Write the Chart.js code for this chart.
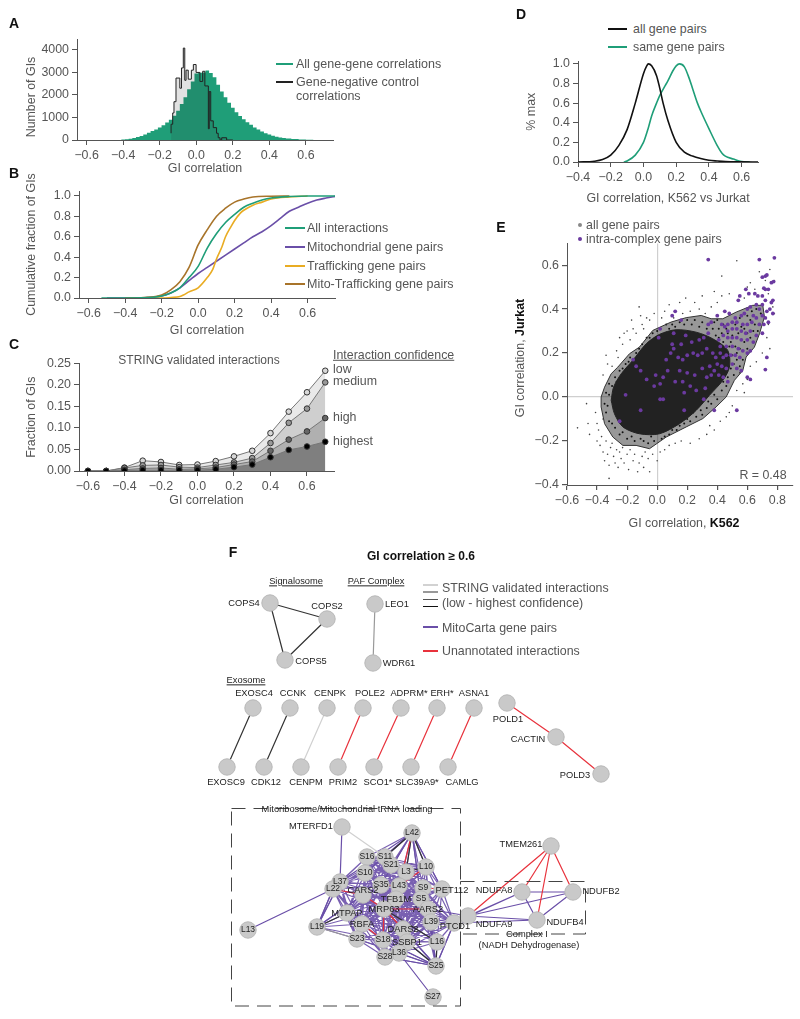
<!DOCTYPE html>
<html><head><meta charset="utf-8">
<style>
html,body{margin:0;padding:0;background:#fff;width:800px;height:1019px;overflow:hidden}
canvas{position:absolute;display:block}
.t{position:absolute;white-space:nowrap;font-family:"Liberation Sans",Arial,sans-serif;color:#555;line-height:1}
.l{position:absolute;height:2px}
</style>
<script src="https://cdn.jsdelivr.net/npm/chart.js@4/dist/chart.umd.js"></script>
</head><body>
<script>
// ---------- tick labels
const ticksGI=[-0.6,-0.4,-0.2,0,0.2,0.4,0.6];
const ticksA=[0,1000,2000,3000,4000];
const ticksFrac=[0,0.2,0.4,0.6,0.8,1];
const ticksC=[0,0.05,0.1,0.15,0.2,0.25];
const ticksDx=[-0.4,-0.2,0,0.2,0.4,0.6];
const ticksEx=[-0.6,-0.4,-0.2,0,0.2,0.4,0.6,0.8];
const ticksEy=[-0.4,-0.2,0,0.2,0.4,0.6];
// ---------- panel A
const aBins=[-0.42,-0.4,-0.38,-0.36,-0.34,-0.32,-0.3,-0.28,-0.26,-0.24,-0.22,-0.2,-0.18,-0.16,-0.14,-0.12,-0.1,-0.08,-0.06,-0.04,-0.02,0,0.02,0.04,0.06,0.08,0.1,0.12,0.14,0.16,0.18,0.2,0.22,0.24,0.26,0.28,0.3,0.32,0.34,0.36,0.38,0.4,0.42,0.44,0.46,0.48,0.5,0.54,0.58,0.62,0.66,0.7];
const aAll=[5,20,35,50,90,130,180,240,320,400,470,550,650,780,900,1080,1300,1600,1900,2250,2600,2950,2980,3000,3090,2970,2790,2450,2150,1900,1650,1430,1230,1060,920,790,680,560,470,380,300,240,190,140,110,90,70,40,20,10,5,0];
const aNegEdges=[-0.138,-0.129,-0.122,-0.111,-0.09,-0.081,-0.071,-0.063,-0.056,-0.044,-0.027,-0.016,-0.001,0.02,0.035,0.047,0.066,0.071,0.079,0.093,0.111,0.12,0.13,0.139,0.166,0.18,0.2];
const aNeg=[300,700,1200,1700,2750,2300,3200,4080,2650,3100,2700,3100,3350,3000,2600,3050,2400,500,2150,850,550,300,100,0,100,0,0];
// ---------- panel B
const bAllX=[-0.53,-0.3,-0.2,-0.15,-0.1,-0.05,0,0.05,0.1,0.15,0.2,0.25,0.3,0.35,0.4,0.5,0.6,0.75];
const bAll=[0,0.002,0.02,0.05,0.1,0.2,0.31,0.49,0.63,0.74,0.82,0.89,0.93,0.96,0.98,0.995,1,1];
const bMitoX=[-0.5,-0.3,-0.2,-0.15,-0.1,-0.05,0,0.05,0.1,0.15,0.2,0.25,0.3,0.35,0.4,0.45,0.5,0.55,0.6,0.65,0.7,0.76];
const bMito=[0,0.002,0.02,0.05,0.1,0.17,0.24,0.3,0.36,0.42,0.48,0.54,0.6,0.65,0.71,0.78,0.85,0.89,0.93,0.96,0.98,1];
const bTrafX=[-0.3,-0.2,-0.15,-0.1,-0.08,-0.05,0,0.05,0.08,0.1,0.13,0.15,0.18,0.2,0.23,0.25,0.3,0.35,0.4,0.5,0.6];
const bTraf=[0,0,0.005,0.015,0.03,0.06,0.1,0.2,0.28,0.38,0.5,0.6,0.7,0.76,0.83,0.86,0.91,0.94,0.97,0.99,1];
const bMixX=[-0.4,-0.3,-0.2,-0.15,-0.1,-0.05,0,0.05,0.1,0.15,0.2,0.25,0.3,0.4,0.5];
const bMix=[0,0.005,0.03,0.08,0.16,0.3,0.52,0.67,0.8,0.88,0.94,0.97,0.99,0.998,1];
// ---------- panel C
const cX=[-0.6,-0.5,-0.4,-0.3,-0.2,-0.1,0,0.1,0.2,0.3,0.4,0.5,0.6,0.7];
const cLow=[0,0,0.008,0.024,0.021,0.014,0.015,0.023,0.034,0.047,0.088,0.138,0.183,0.233];
const cMedium=[0,0,0.007,0.013,0.014,0.009,0.008,0.014,0.02,0.03,0.065,0.112,0.145,0.206];
const cHigh=[0,0,0.003,0.006,0.007,0.004,0.005,0.008,0.015,0.022,0.047,0.073,0.092,0.123];
const cHighest=[0,0,0.001,0.002,0.002,0.002,0.002,0.004,0.009,0.015,0.032,0.049,0.057,0.068];
// ---------- panel D
const dAllX=[-0.4,-0.3,-0.25,-0.2,-0.15,-0.1,-0.05,0,0.02,0.03,0.05,0.08,0.1,0.12,0.15,0.2,0.25,0.3,0.35,0.4,0.45,0.5,0.6,0.7];
const dAll=[0,0.008,0.025,0.07,0.17,0.33,0.6,0.9,0.98,1,0.98,0.88,0.75,0.6,0.42,0.2,0.1,0.06,0.035,0.018,0.01,0.004,0.001,0];
const dSameX=[-0.12,-0.1,-0.05,0,0.03,0.05,0.08,0.1,0.13,0.15,0.18,0.2,0.22,0.25,0.28,0.3,0.33,0.35,0.4,0.45,0.48,0.5,0.55,0.6,0.65];
const dSame=[0,0.01,0.07,0.2,0.35,0.47,0.6,0.68,0.77,0.83,0.93,0.98,1,0.97,0.85,0.75,0.6,0.52,0.34,0.17,0.09,0.06,0.03,0.005,0];
// ---------- panel E
const eDense=[[-0.306,-0.015],[-0.29,0.045],[-0.239,0.106],[-0.162,0.167],[-0.073,0.242],[0.016,0.285],[0.126,0.306],[0.259,0.295],[0.37,0.265],[0.47,0.212],[0.481,0.136],[0.437,0.076],[0.348,0.008],[0.259,-0.061],[0.149,-0.121],[0.016,-0.167],[-0.118,-0.167],[-0.228,-0.136],[-0.284,-0.076],[-0.306,-0.015]];
const eContour=[[-0.373,0],[-0.35,0.045],[-0.306,0.106],[-0.262,0.136],[-0.184,0.197],[-0.118,0.227],[-0.029,0.303],[0.093,0.341],[0.193,0.361],[0.293,0.371],[0.359,0.356],[0.437,0.356],[0.525,0.386],[0.636,0.417],[0.703,0.417],[0.714,0.364],[0.681,0.288],[0.647,0.227],[0.592,0.182],[0.57,0.121],[0.514,0.076],[0.459,0],[0.392,-0.045],[0.304,-0.098],[0.193,-0.136],[0.06,-0.182],[-0.051,-0.235],[-0.14,-0.22],[-0.228,-0.22],[-0.295,-0.182],[-0.35,-0.121],[-0.373,-0.045],[-0.373,0]];
const eAllPairs=[[-0.53,-0.14],[-0.47,-0.03],[-0.46,-0.12],[-0.45,-0.17],[-0.41,-0.07],[-0.4,-0.12],[-0.4,-0.2],[-0.39,-0.15],[-0.38,-0.22],[-0.37,-0.18],[-0.36,-0.1],[-0.36,-0.25],[-0.35,-0.29],[-0.34,-0.2],[-0.33,-0.26],[-0.32,-0.31],[-0.32,-0.37],[-0.31,-0.23],[-0.3,-0.21],[-0.29,-0.27],[-0.28,-0.3],[-0.27,-0.24],[-0.26,-0.32],[-0.25,-0.25],[-0.24,-0.28],[-0.23,-0.23],[-0.22,-0.3],[-0.2,-0.26],[-0.19,-0.33],[-0.18,-0.24],[-0.16,-0.29],[-0.15,-0.26],[-0.13,-0.34],[-0.12,-0.3],[-0.1,-0.27],[-0.09,-0.32],[-0.08,-0.25],[-0.06,-0.28],[-0.05,-0.34],[-0.03,-0.26],[0,-0.29],[0.02,-0.25],[0.05,-0.24],[0.08,-0.22],[0.12,-0.21],[0.16,-0.2],[0.22,-0.21],[0.28,-0.19],[0.33,-0.17],[0.35,-0.13],[0.38,-0.15],[0.42,-0.11],[0.46,-0.09],[0.48,-0.07],[0.5,-0.04],[0.53,0.03],[-0.36,0.1],[-0.34,0.19],[-0.33,0.15],[-0.3,0.14],[-0.27,0.21],[-0.26,0.18],[-0.25,0.27],[-0.23,0.24],[-0.22,0.29],[-0.2,0.3],[-0.18,0.26],[-0.17,0.35],[-0.16,0.31],[-0.14,0.29],[-0.12,0.41],[-0.11,0.37],[-0.1,0.33],[-0.09,0.31],[-0.07,0.36],[-0.05,0.35],[-0.02,0.38],[0.03,0.36],[0.05,0.39],[0.08,0.42],[0.11,0.36],[0.15,0.43],[0.17,0.38],[0.19,0.45],[0.22,0.39],[0.25,0.43],[0.28,0.4],[0.3,0.46],[0.32,0.38],[0.36,0.41],[0.38,0.48],[0.4,0.43],[0.43,0.46],[0.45,0.39],[0.48,0.47],[0.43,0.55],[0.53,0.62],[0.55,0.46],[0.58,0.45],[0.6,0.5],[0.62,0.52],[0.65,0.49],[0.68,0.57],[0.72,0.53],[0.75,0.58],[0.78,0.53],[0.74,0.47],[0.77,0.41],[0.78,0.38],[0.74,0.33],[0.73,0.27],[0.75,0.22],[0.7,0.2],[0.66,0.16],[0.62,0.14],[0.6,0.08],[0.57,0.06],[0.55,0.11],[0.58,0.02]];
const eAllPairsBand=[[0.38,0.34],[0.41,0.31],[0.44,0.33],[0.47,0.29],[0.5,0.28],[0.52,0.33],[0.55,0.36],[0.58,0.31],[0.6,0.37],[0.63,0.39],[0.66,0.4],[0.69,0.38],[0.65,0.33],[0.67,0.3],[0.62,0.27],[0.58,0.25],[0.55,0.22],[0.6,0.22],[0.57,0.17],[0.53,0.17],[0.55,0.14],[0.51,0.1],[0.49,0.13],[0.46,0.05],[0.43,0.03],[0.4,-0.01],[0.36,-0.03],[0.33,-0.05],[0.3,-0.08],[0.26,-0.09],[0.22,-0.11],[0.18,-0.12],[0.13,-0.15],[0.08,-0.17],[0.03,-0.19],[-0.02,-0.2],[-0.06,-0.21],[-0.11,-0.19],[-0.15,-0.2],[-0.2,-0.19],[-0.25,-0.17],[-0.28,-0.14],[-0.32,-0.11],[-0.34,-0.07],[-0.35,-0.03],[-0.34,0.02],[-0.32,0.06],[-0.28,0.09],[-0.25,0.12],[-0.21,0.15],[-0.18,0.18],[-0.14,0.2],[-0.1,0.24],[-0.07,0.27],[-0.03,0.29],[0.02,0.31],[0.06,0.33],[0.1,0.33],[0.15,0.34],[0.2,0.35],[0.25,0.35],[0.3,0.34],[0.34,0.33],[0.37,0.31],[0.41,0.27],[0.44,0.25],[0.48,0.23],[0.5,0.19],[0.4,0.35],[0.43,0.29],[0.46,0.31],[0.49,0.25],[0.52,0.23],[0.54,0.29],[0.56,0.32],[0.6,0.29],[0.62,0.35],[0.64,0.3],[0.53,0.2],[0.51,0.15],[0.47,0.09],[0.44,0.07],[0.38,0.01],[0.34,-0.02],[0.29,-0.06],[0.24,-0.07],[0.2,-0.1],[0.15,-0.13],[0.1,-0.15],[0.05,-0.18],[-0.04,-0.18],[-0.09,-0.2],[-0.17,-0.18],[-0.23,-0.16],[-0.3,-0.12],[-0.33,-0.04],[-0.32,0.01],[-0.3,0.05],[-0.27,0.07],[-0.23,0.13],[-0.19,0.16],[-0.12,0.22],[-0.05,0.27],[0,0.3],[0.08,0.31],[0.12,0.32],[0.18,0.33],[0.23,0.33],[0.28,0.32],[0.33,0.31],[0.39,0.28]];
const eIntraComplex=[[0.34,0.625],[0.68,0.625],[0.78,0.633],[0.72,0.55],[0.73,0.555],[0.7,0.545],[0.76,0.52],[0.775,0.525],[0.71,0.495],[0.72,0.49],[0.74,0.49],[0.59,0.49],[0.55,0.46],[0.54,0.44],[0.61,0.47],[0.65,0.47],[0.67,0.46],[0.7,0.46],[0.72,0.44],[0.77,0.44],[0.76,0.43],[0.6,0.4],[0.62,0.41],[0.66,0.42],[0.68,0.4],[0.7,0.42],[0.73,0.39],[0.75,0.4],[0.77,0.38],[0.58,0.38],[0.56,0.37],[0.45,0.39],[0.48,0.38],[0.52,0.36],[0.64,0.37],[0.66,0.36],[0.7,0.37],[0.72,0.36],[0.74,0.34],[0.71,0.33],[0.68,0.33],[0.63,0.34],[0.6,0.33],[0.57,0.33],[0.53,0.34],[0.5,0.34],[0.47,0.33],[0.45,0.32],[0.43,0.33],[0.47,0.3],[0.5,0.31],[0.53,0.31],[0.56,0.3],[0.59,0.29],[0.62,0.3],[0.66,0.28],[0.7,0.29],[0.64,0.25],[0.6,0.26],[0.56,0.26],[0.53,0.27],[0.5,0.27],[0.47,0.27],[0.44,0.28],[0.41,0.26],[0.42,0.23],[0.46,0.23],[0.5,0.23],[0.54,0.22],[0.57,0.21],[0.6,0.2],[0.62,0.21],[0.55,0.18],[0.52,0.19],[0.49,0.19],[0.46,0.19],[0.44,0.18],[0.42,0.2],[0.39,0.18],[0.37,0.2],[0.4,0.15],[0.43,0.14],[0.46,0.13],[0.5,0.15],[0.53,0.13],[0.56,0.12],[0.6,0.09],[0.62,0.08],[0.72,0.125],[0.73,0.18],[0.53,-0.06],[0.47,0.07],[0.44,0.09],[0.41,0.1],[0.38,0.12],[0.35,0.14],[0.33,0.22],[0.3,0.2],[0.27,0.19],[0.24,0.2],[0.2,0.19],[0.17,0.17],[0.14,0.18],[0.11,0.22],[0.09,0.2],[0.06,0.17],[0.1,0.24],[0.16,0.24],[0.19,0.28],[0.23,0.25],[0.28,0.26],[0.31,0.27],[0.34,0.29],[0.15,0.12],[0.2,0.11],[0.25,0.1],[0.3,0.13],[0.33,0.09],[0.36,0.1],[0.12,0.07],[0.17,0.07],[0.22,0.05],[0.07,0.12],[0.04,0.09],[0.02,0.06],[-0.01,0.1],[-0.02,0.05],[-0.07,0.08],[-0.11,0.12],[-0.14,0.14],[-0.16,0.17],[0.18,0.02],[0.26,0.03],[0.32,0.04],[0.04,-0.01],[0.02,-0.01],[-0.11,-0.06],[-0.21,0.01],[-0.25,-0.11],[0.18,-0.06],[0.38,-0.06],[0.31,-0.01],[0.12,0.39],[0.1,0.37],[0.11,0.29],[0.02,0.31],[0.01,0.27],[0.16,0.35],[0.36,0.34],[0.4,0.37],[0.34,0.33]];
// ---------- panel F (layout positions of the network nodes)
const netNodes=[["COPS4",270,603],["COPS2",327,619],["COPS5",285,660],["LEO1",375,604],["WDR61",373,663],
["EXOSC4",253,708],["CCNK",290,708],["CENPK",327,708],["POLE2",363,708],["ADPRM",401,708],["ERH",437,708],["ASNA1",474,708],
["EXOSC9",227,767],["CDK12",264,767],["CENPM",301,767],["PRIM2",338,767],["SCO1",374,767],["SLC39A9",411,767],["CAMLG",448,767],
["POLD1",507,703],["CACTIN",556,737],["POLD3",601,774],
["MTERFD1",342,827],["L13",248,930],["S27",433,997],["TMEM261",551,846],["NDUFA8",522,892],["NDUFB2",573,892],["NDUFA9",468,916],["NDUFB4",537,920]];
const coreNodes=[["L42",412,833],["S16",367,857],["S11",385,857],["S21",391,865],["L10",426,867],["L3",406,872],["S10",365,873],["L37",340,882],["L22",333,889],["S35",381,885],["L43",399,886],["S9",423,888],["PET112",442,889],["CARS2",363,895],["TFB1M",396,899],["S5",421,899],["MRP63",384,909],["AARS2",428,909],["MTPAP",347,913],["RBFA",362,924],["L39",431,922],["PTCD1",454,923],["L19",317,927],["DARS2",403,929],["S23",357,939],["S18",383,940],["SSBP1",407,942],["L16",437,942],["L36",399,953],["S28",385,957],["S25",436,966]];
const netLabels=[["COPS4",244,603],["COPS2",327,606],["COPS5",311,661],["LEO1",397,604],["WDR61",399,663],
["EXOSC4",254,693],["CCNK",293,693],["CENPK",330,693],["POLE2",370,693],["ADPRM*",409,693],["ERH*",442,693],["ASNA1",474,693],
["EXOSC9",226,782],["CDK12",266,782],["CENPM",306,782],["PRIM2",343,782],["SCO1*",378,782],["SLC39A9*",417,782],["CAMLG",462,782],
["POLD1",508,719],["CACTIN",528,739],["POLD3",575,775],
["MTERFD1",311,826],["TMEM261",521,844],["NDUFA8",494,890],["NDUFB2",601,891],["NDUFA9",494,924],["NDUFB4",565,922],["Complex I",527,934],["(NADH Dehydrogenase)",529,945],
["Mitoribosome/Mitochondrial tRNA loading",347,809],
["CARS2",363,890],["TFB1M",396,899],["MRP63",384,909],["AARS2",428,909],["MTPAP",347,913],["RBFA",362,924],["PTCD1",455,926],["DARS2",403,929],["SSBP1",407,942],["PET112",452,890]];
const netShortLabels=[["L42",412,833],["S16",367,857],["S21",391,865],["S11",385,857],["L10",426,867],["L3",406,872],["S10",365,873],["L37",340,882],["L22",333,889],["S35",381,885],["L43",399,886],["S9",423,888],["S5",421,899],["L39",431,922],["L19",317,927],["L13",248,930],["S23",357,939],["S18",383,940],["L16",437,942],["L36",399,953],["S28",385,957],["S25",436,966],["S27",433,997]];
const edgesDark=[["COPS4","COPS2"],["COPS4","COPS5"],["COPS2","COPS5"],["EXOSC4","EXOSC9"],["CCNK","CDK12"],["L42","S11"],["L42","L10"],["L42","L3"],["L19","MTPAP"],["L10","L3"],["S25","L16"],["S25","SSBP1"],["MRP63","L16"]];
const edgesMid=[["LEO1","WDR61"],["L19","S23"]];
const edgesLight=[["CENPK","CENPM"],["MTERFD1","S11"]];
const edgesRed=[["POLE2","PRIM2"],["ADPRM","SCO1"],["ERH","SLC39A9"],["ASNA1","CAMLG"],["POLD1","CACTIN"],["CACTIN","POLD3"],["TMEM261","NDUFA8"],["TMEM261","NDUFB2"],["TMEM261","NDUFA9"],["TMEM261","NDUFB4"],["L42","L43"],["L10","L43"],["L22","CARS2"],["CARS2","MRP63"],["MRP63","TFB1M"],["AARS2","L39"],["S35","L43"],["S21","L3"],["RBFA","S18"],["MRP63","S18"],["DARS2","MRP63"],["AARS2","MRP63"],["S9","PET112"],["S5","AARS2"]];
const edgesPurple=[["MTERFD1","L37"],["L13","L22"],["L36","S27"],["NDUFA9","NDUFA8"],["NDUFA9","NDUFB2"],["NDUFA9","NDUFB4"],["NDUFA8","NDUFB2"],["NDUFA8","NDUFB4"],["NDUFB4","NDUFB2"],["PTCD1","NDUFA8"],["PTCD1","NDUFA9"],["PTCD1","NDUFB4"],["AARS2","NDUFA9"],["L39","NDUFA9"],["L42","PET112"],["L42","S5"],["L42","S35"],["L42","S10"],["L42","L37"],["L19","L22"],["L19","L37"],["L19","CARS2"],["S25","S28"],["S25","S18"],["S25","S23"],["S25","L39"],["S25","PTCD1"],["S25","DARS2"],["S25","AARS2"]];
const coreReach=72; // members of the mitoribosome core are linked to neighbours within this layout distance

// ---------- helpers
const FONT='"Liberation Sans",Arial,sans-serif', GREY='#555', FS=12.4;
const GREEN='#1f9e78',PURPLE='#6a4fa8',YELLOW='#e9ac23',BROWN='#a8742a',RED='#e8323c',VIO='#6b3aa0';
function T(s,x,y,o={}){const d=document.createElement('div');d.className='t';
 d.innerHTML=s;d.style.left=x+'px';d.style.top=y+'px';
 d.style.fontSize=(o.size||FS)+'px';if(o.color)d.style.color=o.color;if(o.bold)d.style.fontWeight='bold';
 if(o.underline)d.style.textDecoration='underline';
 d.style.transform=(o.center?'translate(-50%,-50%)':'translate(0,-50%)')+(o.rot?' rotate(-90deg)':'');
 document.body.appendChild(d);}
function L(x1,x2,y,c,h=2){const d=document.createElement('div');d.className='l';
 d.style.cssText+=`left:${x1}px;width:${x2-x1}px;top:${y-h/2}px;background:${c};height:${h}px`;document.body.appendChild(d);}
function Dot(x,y,r,c){const d=document.createElement('div');d.className='l';
 d.style.cssText+=`left:${x-r}px;top:${y-r}px;width:${2*r}px;height:${2*r}px;border-radius:50%;background:${c}`;document.body.appendChild(d);}
const fmt=(d)=>v=>Number(v).toFixed(d).replace('-','\u2212');
function axis(list,min,max,dec,extra={}){return Object.assign({type:'linear',min,max,
 afterBuildTicks:s=>{s.ticks=list.map(v=>({value:v}));},
 grid:{drawOnChartArea:false,tickLength:5,tickColor:GREY,tickWidth:1},
 border:{color:GREY,width:1},
 ticks:{autoSkip:false,maxRotation:0,minRotation:0,padding:3,color:GREY,font:{family:FONT,size:FS},callback:fmt(dec)}},extra);}
function panel(rect,m,datasets,xs,ys,plugins=[]){
 const c=document.createElement('canvas');const w=rect.r-rect.l+m.l+m.r,h=rect.b-rect.t+m.t+m.b;
 c.width=w;c.height=h;c.style.left=(rect.l-m.l)+'px';c.style.top=(rect.t-m.t)+'px';c.style.width=w+'px';c.style.height=h+'px';
 document.body.appendChild(c);
 xs.afterFit=s=>{s.height=m.b;};ys.afterFit=s=>{s.width=m.l;};
 return new Chart(c,{type:'scatter',data:{datasets},plugins,options:{responsive:false,animation:false,devicePixelRatio:1,
  layout:{autoPadding:false,padding:{top:m.t,right:m.r,left:0,bottom:0}},plugins:{legend:{display:false},tooltip:{enabled:false}},
  scales:{x:xs,y:ys}}});}
const xt=s=>({display:true,text:s,color:GREY,font:{family:FONT,size:FS},padding:0});
const pts=(xs,ys)=>xs.map((x,i)=>({x,y:ys[i]}));
const pairs=a=>a.map(p=>({x:p[0],y:p[1]}));
const curve=(xs,ys,c,w=1.6)=>({data:pts(xs,ys),showLine:true,borderColor:c,borderWidth:w,pointRadius:0,tension:0.25,cubicInterpolationMode:'monotone'});

// ---------- A
panel({l:77,r:333,t:39,b:140},{l:53,r:10,t:10,b:36},[
 {data:pts(aNegEdges,aNeg),showLine:true,stepped:'after',borderColor:'#222',borderWidth:1,pointRadius:0,fill:'origin',backgroundColor:'rgba(50,50,50,.14)'},
 {data:pts(aBins,aAll),showLine:true,stepped:'middle',borderColor:GREEN,borderWidth:0,pointRadius:0,fill:'origin',backgroundColor:GREEN}
],axis(ticksGI,-0.6526,0.748,1,{title:xt('GI correlation')}),axis(ticksA,0,4464,0));
T('Number of GIs',31,97,{center:1,rot:1});
L(276,293,64,GREEN);T('All gene-gene correlations',296,64,{size:12.5});
L(276,293,81.5,'#222');T('Gene-negative control',296,81.5,{size:12.5});T('correlations',296,96,{size:12.5});
// ---------- B
panel({l:79,r:335,t:191,b:298},{l:55,r:10,t:30,b:40},[
 curve(bAllX,bAll,GREEN),curve(bMixX,bMix,BROWN),curve(bTrafX,bTraf,YELLOW),curve(bMitoX,bMito,PURPLE)
],axis(ticksGI,-0.653,0.75,1,{title:xt('GI correlation')}),axis(ticksFrac,0,1.049,1,{title:xt('Cumulative fraction of GIs')}));
[['All interactions',228,GREEN],['Mitochondrial gene pairs',247,PURPLE],['Trafficking gene pairs',266,YELLOW],['Mito-Trafficking gene pairs',284,BROWN]].forEach(r=>{L(285,305,r[1],r[2]);T(r[0],307,r[1],{size:12.5});});
// ---------- C
const cSeries=(ys,fillC,ptC)=>({data:pts(cX,ys),showLine:true,borderColor:'#777',borderWidth:1,fill:'origin',backgroundColor:fillC,pointRadius:2.8,pointBackgroundColor:ptC,pointBorderColor:'#333',pointBorderWidth:1});
panel({l:79,r:334,t:363,b:471},{l:55,r:10,t:10,b:37},[
 cSeries(cHighest,'#7f7f7f','#000'),cSeries(cHigh,'#b0b0b0','#666'),cSeries(cMedium,'#cfcfcf','#999'),cSeries(cLow,'#e9e9e9','#d8d8d8')
],axis(ticksGI,-0.649,0.748,1,{title:xt('GI correlation')}),axis(ticksC,0,0.25,2,{title:xt('Fraction of GIs')}));
T('STRING validated interactions',199,360,{center:1,size:12});
T('Interaction confidence',333,355,{underline:1,size:12.4});
T('low',333,369);T('medium',333,381);T('high',333,417);T('highest',333,441);
// ---------- D
panel({l:578,r:758,t:61,b:162},{l:54,r:10,t:10,b:44},[
 curve(dAllX,dAll,'#111'),curve(dSameX,dSame,GREEN)
],axis(ticksDx,-0.4,0.7,1,{title:xt('GI correlation, K562 vs Jurkat')}),axis(ticksFrac,0,1.025,1,{title:xt('% max')}));
L(608,627,28.5,'#111');T('all gene pairs',633,29);L(608,627,47,GREEN);T('same gene pairs',633,47);
// ---------- E
const zeroGrid={drawOnChartArea:true,tickLength:5,tickColor:GREY,color:c=>c.tick&&c.tick.value===0?'#cfcfcf':'rgba(0,0,0,0)',lineWidth:1.2};
const ex=axis(ticksEx,-0.6,0.904,1);ex.grid=zeroGrid;const ey=axis(ticksEy,-0.4,0.6985,1);ey.grid=zeroGrid;
panel({l:567,r:793,t:243,b:485},{l:50,r:7,t:10,b:30},[
 {data:pairs(eIntraComplex),pointRadius:1.9,pointBackgroundColor:VIO,pointBorderWidth:0},
 {data:pairs(eContour),showLine:true,borderColor:'#333',borderWidth:1,pointRadius:0},
 {data:pairs(eDense),showLine:true,tension:0.3,borderColor:'#222',borderWidth:1,pointRadius:0,fill:'shape',backgroundColor:'#222'},
 {data:pairs(eAllPairsBand),pointRadius:1,pointBackgroundColor:'#111',pointBorderWidth:0},
 {data:pairs(eContour),showLine:true,borderWidth:0,pointRadius:0,fill:'shape',backgroundColor:'rgba(40,40,40,.48)'},
 {data:pairs(eAllPairs),pointRadius:0.8,pointBackgroundColor:'#444',pointBorderWidth:0}
],ex,ey);
Dot(580,224.5,2,'#888');T('all gene pairs',586,224.5);Dot(580,239,2.2,VIO);T('intra-complex gene pairs',586,239);
T('R = 0.48',763,475,{center:1});
T('GI correlation, <b style="color:#111">K562</b>',684,523,{center:1});
T('GI correlation, <b style="color:#111">Jurkat</b>',520,358,{center:1,rot:1});
// ---------- F
const pos={};[...netNodes,...coreNodes].forEach(n=>{pos[n[0]]=n;});
const seg=list=>{const d=[];list.forEach(e=>{const a=pos[e[0]],b=pos[e[1]];d.push({x:a[1],y:a[2]},{x:b[1],y:b[2]},{x:NaN,y:NaN});});return d;};
const corePairs=[];coreNodes.forEach((a,i)=>coreNodes.slice(i+1).forEach(b=>{if(Math.hypot(a[1]-b[1],a[2]-b[2])<=coreReach)corePairs.push([a[0],b[0]]);}));
const edge=(list,c,w)=>({data:seg(list),showLine:true,spanGaps:false,borderColor:c,borderWidth:w,pointRadius:0});
const box=(x1,x2,y1,y2)=>({data:[{x:x1,y:y1},{x:x2,y:y1},{x:x2,y:y2},{x:x1,y:y2},{x:x1,y:y1}],showLine:true,borderColor:'#444',borderWidth:1,borderDash:[14,8],pointRadius:0});
const labelPlugin={id:'netLabels',afterDatasetsDraw(ch){const g=ch.ctx,X=ch.scales.x,Y=ch.scales.y;g.save();g.textAlign='center';g.textBaseline='middle';g.fillStyle='#222';
 g.font='9.3px '+FONT;netLabels.forEach(l=>g.fillText(l[0],X.getPixelForValue(l[1]),Y.getPixelForValue(l[2])));
 g.font='8.5px '+FONT;netShortLabels.forEach(l=>g.fillText(l[0],X.getPixelForValue(l[1]),Y.getPixelForValue(l[2])));g.restore();}};
const fx=axis([],190,640,0,{display:false}),fy=axis([],540,1019,0,{display:false,reverse:true});
const nodeStyle=list=>({data:list.map(n=>({x:n[1],y:n[2]})),pointRadius:8.2,pointBackgroundColor:'#c9c9c9',pointBorderColor:'#b8b8b8',pointBorderWidth:1});
panel({l:190,r:640,t:540,b:1019},{l:0,r:0,t:0,b:0},[
 box(231.5,460.5,808.5,1006),box(460.5,585.5,881.5,934),
 nodeStyle(netNodes),nodeStyle(coreNodes),
 edge(edgesRed,RED,1.2),edge(edgesDark,'#333',1.2),edge(edgesMid,'#999',1.2),edge(edgesLight,'#d0d0d0',1.2),
 edge(edgesPurple,PURPLE,1.2),edge(corePairs,'rgba(106,79,168,.9)',1.2)
],fx,fy,[labelPlugin]);
T('GI correlation ≥ 0.6',421,556,{center:1,bold:1,color:'#111',size:12});
T('Signalosome',296,582,{center:1,underline:1,size:9.3,color:'#222'});
T('PAF Complex',376,582,{center:1,underline:1,size:9.3,color:'#222'});
T('Exosome',246,681,{center:1,underline:1,size:9.3,color:'#222'});
L(423,438,585,'#d2d2d2',1.5);L(423,438,592,'#999',1.5);L(423,438,599.5,'#555',1.5);L(423,438,606.5,'#111',1.5);
T('STRING validated interactions',442,588);T('(low - highest confidence)',442,603);
L(423,438,627,PURPLE,1.5);T('MitoCarta gene pairs',442,628);
L(423,438,651,RED,1.5);T('Unannotated interactions',442,651);
// ---------- panel letters
[['A',14,23],['B',14,173],['C',14,344],['D',521,14],['E',501,227],['F',233,552]].forEach(p=>T(p[0],p[1],p[2],{center:1,bold:1,size:14,color:'#111'}));
</script>
</body></html>
